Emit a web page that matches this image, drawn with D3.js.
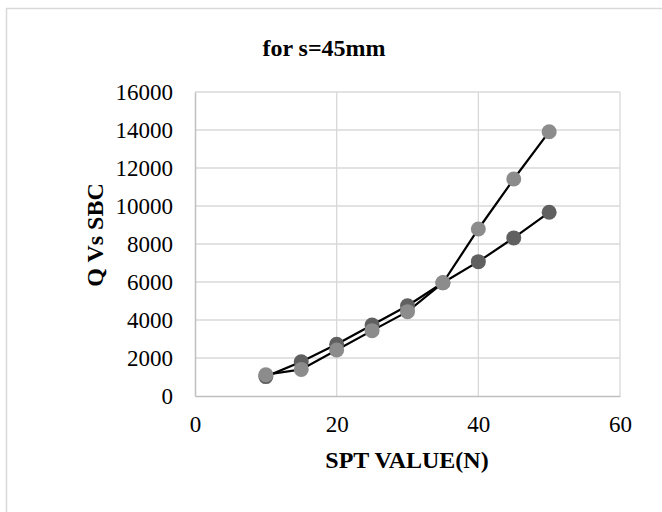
<html>
<script src="https://d3js.org/d3.v7.min.js"></script>
<style>
body {margin:0; background:#fff;}
text {font-family:"Liberation Serif", "Times New Roman", serif;}
</style>
<body>
<svg width=662 height=512></svg>
<script>
const spt = [10, 15, 20, 25, 30, 35, 40, 45, 50];
const sbcDark = [1020, 1800, 2720, 3740, 4750, 5960, 7070, 8320, 9670];
const sbcLight = [1120, 1400, 2420, 3440, 4440, 5960, 8790, 11420, 13910];
const xTicks = [0, 20, 40, 60];
const yTicks = [0, 2000, 4000, 6000, 8000, 10000, 12000, 14000, 16000];

const svg = d3.select('svg');
const plotL = 195, plotR = 620, plotT = 92, plotB = 396;

const xs = d3.scaleLinear().domain([0, 60]).range([plotL, plotR]);
const ys = d3.scaleLinear().domain([0, 16000]).range([plotB, plotT]);

// chart border
svg.append('rect')
    .attr('x', 6.5).attr('y', 8.5)
    .attr('width', 700).attr('height', 600)
    .attr('fill', 'none').attr('stroke', '#d9d9d9').attr('stroke-width', 1.5);

// gridlines
svg.append('g').selectAll('line').data(yTicks.slice(1)).enter().append('line')
    .attr('x1', plotL).attr('x2', plotR)
    .attr('y1', d => ys(d)).attr('y2', d => ys(d))
    .attr('stroke', '#d9d9d9').attr('stroke-width', 1.3);
svg.append('g').selectAll('line').data(xTicks.slice(1)).enter().append('line')
    .attr('x1', d => xs(d)).attr('x2', d => xs(d))
    .attr('y1', plotT).attr('y2', plotB)
    .attr('stroke', '#d9d9d9').attr('stroke-width', 1.3);

// axes
svg.append('g')
    .attr('transform', 'translate(0,' + plotB + ')')
    .call(d3.axisBottom(xs).tickValues(xTicks).tickSize(0).tickPadding(20))
    .call(g => g.select('.domain').attr('stroke', '#bfbfbf').attr('stroke-width', 1.5))
    .selectAll('text').attr('font-size', 23).attr('fill', '#000')
    .style('font-family', '"Liberation Serif", serif');
svg.append('g')
    .attr('transform', 'translate(' + plotL + ',0)')
    .call(d3.axisLeft(ys).tickValues(yTicks).tickSize(0).tickPadding(22).tickFormat(d3.format('d')))
    .call(g => g.select('.domain').attr('stroke', '#bfbfbf').attr('stroke-width', 1.5))
    .selectAll('text').attr('font-size', 23).attr('fill', '#000')
    .style('font-family', '"Liberation Serif", serif');

// series
const series = [
    {vals: sbcDark, color: '#606060'},
    {vals: sbcLight, color: '#8c8c8c'}
];
const line = d3.line().x(d => xs(d[0])).y(d => ys(d[1]));
series.forEach(s => {
    const pts = spt.map((x, i) => [x, s.vals[i]]);
    svg.append('path').datum(pts)
        .attr('d', line)
        .attr('fill', 'none').attr('stroke', '#000').attr('stroke-width', 2.2);
});
series.forEach(s => {
    const pts = spt.map((x, i) => [x, s.vals[i]]);
    svg.append('g').selectAll('circle').data(pts).enter().append('circle')
        .attr('cx', d => xs(d[0])).attr('cy', d => ys(d[1]))
        .attr('r', 7.5)
        .attr('fill', s.color);
});

// titles
svg.append('text')
    .attr('x', 324).attr('y', 56)
    .attr('text-anchor', 'middle')
    .attr('font-size', 24).attr('font-weight', 'bold')
    .text('for s=45mm');
svg.append('text')
    .attr('x', 407).attr('y', 468)
    .attr('text-anchor', 'middle')
    .attr('font-size', 24).attr('font-weight', 'bold')
    .text('SPT VALUE(N)');
svg.append('text')
    .attr('transform', 'translate(103,235) rotate(-90)')
    .attr('text-anchor', 'middle')
    .attr('font-size', 24).attr('font-weight', 'bold')
    .text('Q Vs SBC');
</script>
</body>
</html>
